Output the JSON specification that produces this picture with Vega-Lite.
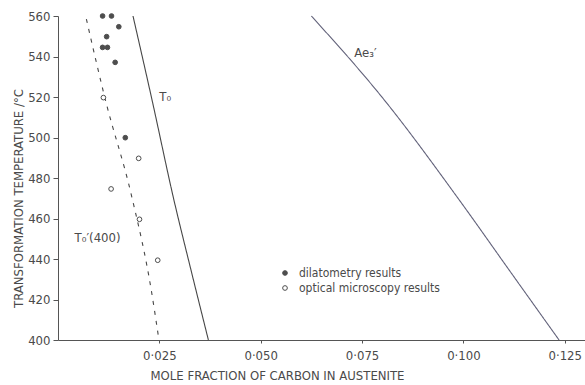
{
  "$schema": "https://vega.github.io/schema/vega-lite/v6.json",
  "width": 527,
  "height": 324,
  "autosize": {"type": "none"},
  "padding": {"left": 58, "top": 16, "right": 0, "bottom": 45},
  "background": "white",
  "config": {
    "view": {"stroke": null},
    "font": "DejaVu Sans Condensed, Liberation Sans Narrow, DejaVu Sans",
    "axis": {
      "grid": false,
      "domainColor": "#555555",
      "tickColor": "#555555",
      "labelColor": "#4a4a4a",
      "titleColor": "#4a4a4a",
      "labelFont": "DejaVu Sans Condensed, Liberation Sans Narrow, DejaVu Sans",
      "titleFont": "DejaVu Sans Condensed, Liberation Sans Narrow, DejaVu Sans",
      "labelFontSize": 13,
      "titleFontSize": 13,
      "titleFontWeight": "normal"
    },
    "legend": {
      "labelFont": "DejaVu Sans Condensed, Liberation Sans Narrow, DejaVu Sans",
      "labelFontSize": 12,
      "labelColor": "#4a4a4a"
    }
  },
  "datasets": {
    "curves": [
      {"series": "T0", "i": 1, "carbon": 0.0185, "temp": 560},
      {"series": "T0", "i": 2, "carbon": 0.0232, "temp": 518.5},
      {"series": "T0", "i": 3, "carbon": 0.0286, "temp": 469.1},
      {"series": "T0", "i": 4, "carbon": 0.0328, "temp": 434.6},
      {"series": "T0", "i": 5, "carbon": 0.0371, "temp": 400},
      {"series": "T0'(400)", "i": 1, "carbon": 0.0070, "temp": 558.5},
      {"series": "T0'(400)", "i": 2, "carbon": 0.0117, "temp": 518.5},
      {"series": "T0'(400)", "i": 3, "carbon": 0.0181, "temp": 471.6},
      {"series": "T0'(400)", "i": 4, "carbon": 0.0230, "temp": 424.7},
      {"series": "T0'(400)", "i": 5, "carbon": 0.0249, "temp": 400},
      {"series": "Ae3'", "i": 1, "carbon": 0.0625, "temp": 560},
      {"series": "Ae3'", "i": 2, "carbon": 0.0805, "temp": 518.5},
      {"series": "Ae3'", "i": 3, "carbon": 0.0990, "temp": 469.1},
      {"series": "Ae3'", "i": 4, "carbon": 0.1118, "temp": 433.1},
      {"series": "Ae3'", "i": 5, "carbon": 0.1236, "temp": 400}
    ],
    "points": [
      {"method": "dilatometry results", "carbon": 0.0110, "temp": 560},
      {"method": "dilatometry results", "carbon": 0.0132, "temp": 560},
      {"method": "dilatometry results", "carbon": 0.0150, "temp": 554.7},
      {"method": "dilatometry results", "carbon": 0.0120, "temp": 549.8},
      {"method": "dilatometry results", "carbon": 0.0110, "temp": 544.5},
      {"method": "dilatometry results", "carbon": 0.0122, "temp": 544.5},
      {"method": "dilatometry results", "carbon": 0.0141, "temp": 537.1},
      {"method": "dilatometry results", "carbon": 0.0166, "temp": 499.9},
      {"method": "optical microscopy results", "carbon": 0.0112, "temp": 519.7},
      {"method": "optical microscopy results", "carbon": 0.0199, "temp": 489.7},
      {"method": "optical microscopy results", "carbon": 0.0131, "temp": 474.6},
      {"method": "optical microscopy results", "carbon": 0.0201, "temp": 459.6},
      {"method": "optical microscopy results", "carbon": 0.0246, "temp": 439.4}
    ],
    "labels": [
      {"text": "T₀", "carbon": 0.0250, "temp": 520},
      {"text": "Ae₃′", "carbon": 0.0731, "temp": 541.7},
      {"text": "T₀′(400)", "carbon": 0.0041, "temp": 450.4}
    ]
  },
  "layer": [
    {
      "data": {"name": "curves"},
      "mark": {"type": "line", "strokeWidth": 1.1, "interpolate": "monotone"},
      "encoding": {
        "x": {
          "field": "carbon", "type": "quantitative",
          "scale": {"domain": [0, 0.13], "nice": false, "zero": false},
          "axis": {
            "title": "MOLE FRACTION OF CARBON IN AUSTENITE",
            "values": [0.025, 0.05, 0.075, 0.1, 0.125],
            "labelExpr": "replace(format(datum.value, '.3f'), '.', '·')",
            "tickSize": 3,
            "labelPadding": 6,
            "titleX": 219,
            "titleY": 35,
            "titleAnchor": null,
            "titleBaseline": "middle",
            "titleAlign": "center"
          }
        },
        "y": {
          "field": "temp", "type": "quantitative",
          "scale": {"domain": [400, 560], "nice": false, "zero": false},
          "axis": {
            "title": "TRANSFORMATION TEMPERATURE /°C",
            "values": [400, 420, 440, 460, 480, 500, 520, 540, 560],
            "tickSize": 5,
            "labelPadding": 3,
            "titleX": -40,
            "titleY": 182,
            "titleBaseline": "middle",
            "titleAlign": "center",
            "titleAngle": -90
          }
        },
        "order": {"field": "i", "type": "quantitative"},
        "color": {
          "field": "series", "type": "nominal",
          "scale": {"domain": ["T0", "T0'(400)", "Ae3'"], "range": ["#474747", "#474747", "#62627a"]},
          "legend": null
        },
        "strokeDash": {
          "field": "series", "type": "nominal",
          "scale": {"domain": ["T0", "T0'(400)", "Ae3'"], "range": [[1, 0], [4, 6], [1, 0]]},
          "legend": null
        }
      }
    },
    {
      "data": {"name": "points"},
      "mark": {"type": "point", "shape": "circle", "size": 22, "stroke": "#4d4d4d", "strokeWidth": 1, "opacity": 1},
      "encoding": {
        "x": {"field": "carbon", "type": "quantitative"},
        "y": {"field": "temp", "type": "quantitative"},
        "fill": {
          "field": "method", "type": "nominal",
          "scale": {"domain": ["dilatometry results", "optical microscopy results"], "range": ["#4d4d4d", "#ffffff"]},
          "legend": {
            "title": null,
            "orient": "none",
            "legendX": 221,
            "legendY": 251,
            "symbolType": "circle",
            "symbolSize": 22,
            "symbolStrokeColor": "#4d4d4d",
            "symbolStrokeWidth": 1,
            "symbolOpacity": 1,
            "labelOffset": 8,
            "rowPadding": 3,
            "padding": 0
          }
        }
      }
    },
    {
      "data": {"name": "labels"},
      "mark": {"type": "text", "align": "left", "baseline": "middle", "fontSize": 13, "color": "#4a4a4a"},
      "encoding": {
        "x": {"field": "carbon", "type": "quantitative"},
        "y": {"field": "temp", "type": "quantitative"},
        "text": {"field": "text", "type": "nominal"}
      }
    }
  ]
}
